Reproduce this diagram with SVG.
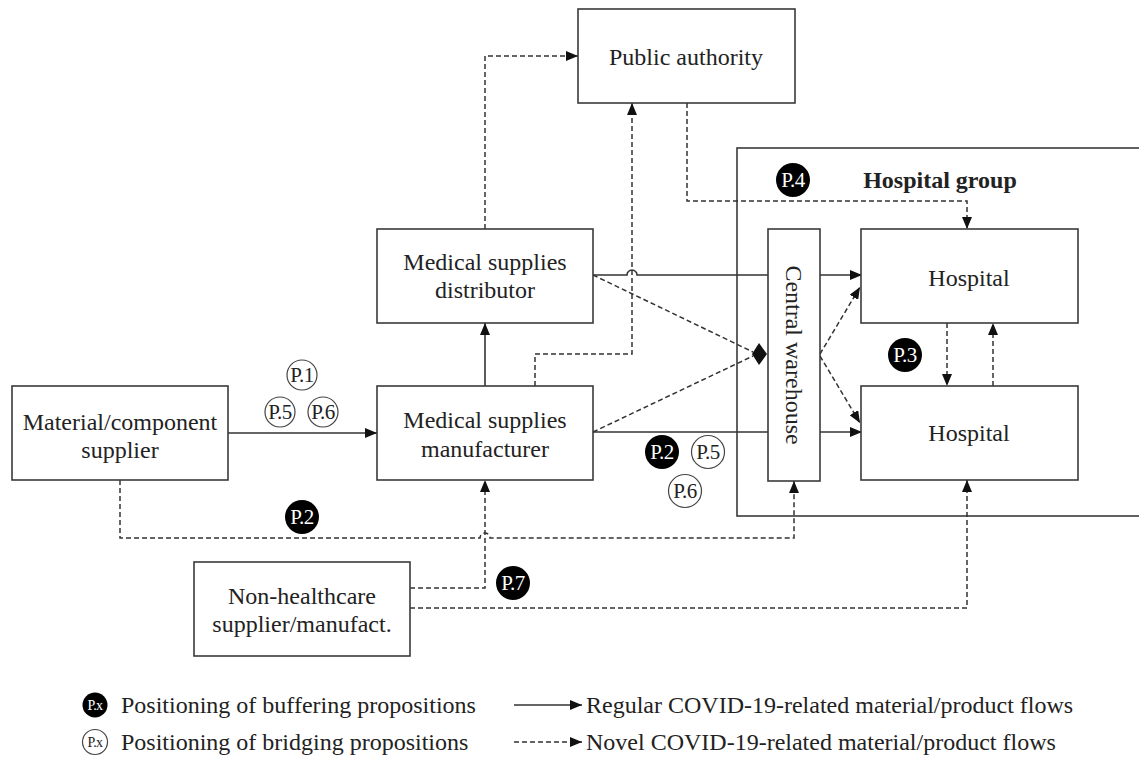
<svg xmlns="http://www.w3.org/2000/svg" width="1139" height="761" viewBox="0 0 1139 761">
<style>
.box{fill:#fff;stroke:#3a3a3a;stroke-width:1.6}
.t{font-family:"Liberation Serif","Times New Roman",serif;font-size:24px;fill:#222;text-anchor:middle}
.lg{font-family:"Liberation Serif","Times New Roman",serif;font-size:24px;fill:#222}
.sol{fill:none;stroke:#333;stroke-width:1.6}
.dsh{fill:none;stroke:#333;stroke-width:1.5;stroke-dasharray:5 3}
.bk{fill:#000}
.wc{fill:#fff;stroke:#444;stroke-width:1.2}
.bt{font-family:"Liberation Serif","Times New Roman",serif;font-size:21px;fill:#fff;text-anchor:middle;letter-spacing:-0.6px}
.wt{font-family:"Liberation Serif","Times New Roman",serif;font-size:21px;fill:#222;text-anchor:middle;letter-spacing:-0.6px}
</style>
<defs>
<marker id="arr" viewBox="0 0 12 10" refX="12" refY="5" markerWidth="12" markerHeight="10" markerUnits="userSpaceOnUse" orient="auto"><path d="M0,0 L12,5 L0,10 z" fill="#111"/></marker>
</defs>
<rect id="hospital-group" class="box" x="737" y="148" width="410" height="368"/>
<text class="t" x="940" y="188" font-weight="bold">Hospital group</text>
<g id="connectors">
<path class="dsh" d="M485,229 V56 H578" marker-end="url(#arr)"/>
<path class="dsh" d="M535,386 V354 H632 V103" marker-end="url(#arr)"/>
<path class="dsh" d="M687,103 V201 H967 V229" marker-end="url(#arr)"/>
<path class="sol" d="M485,386 V323" marker-end="url(#arr)"/>
<path class="sol" d="M228,433 H377" marker-end="url(#arr)"/>
<path class="sol" d="M593,275 H627 a5,5 0 0 1 10,0 H862" marker-end="url(#arr)"/>
<path class="sol" d="M593,432 H862" marker-end="url(#arr)"/>
<path class="dsh" d="M593,275 L753,352"/>
<path class="dsh" d="M593,432 L753,356"/>
<polygon points="752,354 759,343 767,354 759,365" fill="#111"/>
<path class="dsh" d="M820,354 L860,287" marker-end="url(#arr)"/>
<path class="dsh" d="M820,356 L860,423" marker-end="url(#arr)"/>
<path class="dsh" d="M947,323 V386" marker-end="url(#arr)"/>
<path class="dsh" d="M993,386 V323" marker-end="url(#arr)"/>
<path class="dsh" d="M120,480 V538 H480 a5,5 0 0 1 10,0 H794 V481" marker-end="url(#arr)"/>
<path class="dsh" d="M410,588 H485 V480" marker-end="url(#arr)"/>
<path class="dsh" d="M410,608 H967 V480" marker-end="url(#arr)"/>
</g>
<g id="public-authority"><rect class="box" x="578" y="9" width="217" height="94"/><text class="t" x="686" y="65">Public authority</text></g>
<g id="distributor"><rect class="box" x="377" y="229" width="216" height="94"/><text class="t" x="485" y="270">Medical supplies</text><text class="t" x="485" y="298">distributor</text></g>
<g id="manufacturer"><rect class="box" x="377" y="386" width="216" height="94"/><text class="t" x="485" y="428">Medical supplies</text><text class="t" x="485" y="457">manufacturer</text></g>
<g id="material-supplier"><rect class="box" x="12" y="386" width="216" height="94"/><text class="t" x="120" y="430">Material/component</text><text class="t" x="120" y="458">supplier</text></g>
<g id="non-healthcare"><rect class="box" x="194" y="562" width="216" height="94"/><text class="t" x="302" y="604">Non-healthcare</text><text class="t" x="302" y="632">supplier/manufact.</text></g>
<g id="central-warehouse"><rect class="box" x="768" y="229" width="52" height="252"/><text class="t" transform="translate(794,355) rotate(90)" x="0" y="8">Central warehouse</text></g>
<g id="hospital-1"><rect class="box" x="861" y="229" width="217" height="94"/><text class="t" x="969" y="286">Hospital</text></g>
<g id="hospital-2"><rect class="box" x="861" y="386" width="217" height="94"/><text class="t" x="969" y="441">Hospital</text></g>
<g id="propositions">
<g><circle class="wc" cx="302" cy="375" r="15"/><text class="wt" x="302" y="382">P.1</text></g>
<g><circle class="wc" cx="280" cy="412" r="15"/><text class="wt" x="280" y="419">P.5</text></g>
<g><circle class="wc" cx="323" cy="412" r="15"/><text class="wt" x="323" y="419">P.6</text></g>
<g><circle class="bk" cx="662" cy="452" r="17"/><text class="bt" x="662" y="459">P.2</text></g>
<g><circle class="wc" cx="708" cy="452" r="16.5"/><text class="wt" x="708" y="459">P.5</text></g>
<g><circle class="wc" cx="685" cy="491" r="16.5"/><text class="wt" x="685" y="498">P.6</text></g>
<g><circle class="bk" cx="302" cy="517" r="17"/><text class="bt" x="302" y="524">P.2</text></g>
<g><circle class="bk" cx="513" cy="583" r="17"/><text class="bt" x="513" y="590">P.7</text></g>
<g><circle class="bk" cx="793" cy="180" r="17"/><text class="bt" x="793" y="187">P.4</text></g>
<g><circle class="bk" cx="905" cy="355" r="17"/><text class="bt" x="905" y="362">P.3</text></g>
</g>
<g id="legend">
<circle class="bk" cx="95" cy="705" r="12.5"/><text class="bt" x="95" y="710" style="font-size:14px">P.x</text>
<text class="lg" x="121" y="713">Positioning of buffering propositions</text>
<circle class="wc" cx="95" cy="742" r="12.5"/><text class="wt" x="95" y="747" style="font-size:14px">P.x</text>
<text class="lg" x="121" y="750">Positioning of bridging propositions</text>
<path class="sol" d="M514,705 H582" marker-end="url(#arr)"/>
<text class="lg" x="586" y="713">Regular COVID-19-related material/product flows</text>
<path class="dsh" d="M514,742 H582" marker-end="url(#arr)"/>
<text class="lg" x="586" y="750">Novel COVID-19-related material/product flows</text>
</g>
</svg>
